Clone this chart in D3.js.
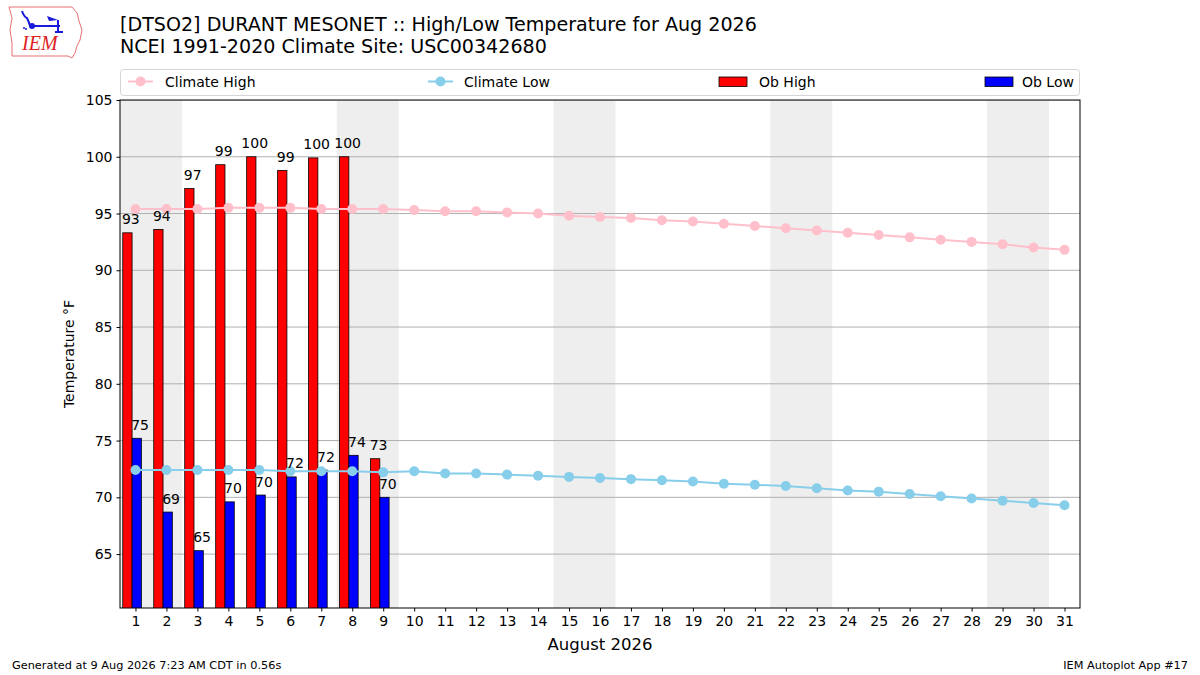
<!DOCTYPE html>
<html>
<head>
<meta charset="utf-8">
<script src="https://cdn.jsdelivr.net/npm/d3@7"></script>
<style>
  html, body { margin: 0; padding: 0; background: #fff; }
  svg { display: block; font-family: "DejaVu Sans", sans-serif; }
</style>
</head>
<body>
<svg id="chart" width="1200" height="675"></svg>
<script>
// ---- data ----
const days = d3.range(1, 32);
const obDays = [1, 2, 3, 4, 5, 6, 7, 8, 9];
const obHigh = [93.3, 93.6, 97.2, 99.3, 100.0, 98.8, 99.9, 100.0, 73.4];
const obLow = [75.2, 68.7, 65.3, 69.6, 70.2, 71.8, 72.4, 73.7, 70.0];
const climateHigh = [95.4, 95.4, 95.4, 95.5, 95.5, 95.5, 95.4, 95.4, 95.4, 95.3,
  95.2, 95.2, 95.1, 95.0, 94.8, 94.7, 94.6, 94.4, 94.3, 94.1,
  93.9, 93.7, 93.5, 93.3, 93.1, 92.9, 92.7, 92.5, 92.3, 92.0, 91.8];
const climateLow = [72.4, 72.4, 72.4, 72.4, 72.4, 72.3, 72.3, 72.3, 72.2, 72.3,
  72.1, 72.1, 72.0, 71.9, 71.8, 71.7, 71.6, 71.5, 71.4, 71.2,
  71.1, 71.0, 70.8, 70.6, 70.5, 70.3, 70.1, 69.9, 69.7, 69.5, 69.3];
const weekendStarts = [1, 8, 15, 22, 29];
const yTicks = [65, 70, 75, 80, 85, 90, 95, 100, 105];
const titleLines = ["[DTSO2] DURANT MESONET :: High/Low Temperature for Aug 2026",
  "NCEI 1991-2020 Climate Site: USC00342680"];
const legendLabels = ["Climate High", "Climate Low", "Ob High", "Ob Low"];
const colors = { climHigh: "#ffc0cb", climLow: "#87ceeb", obHigh: "#ff0000", obLow: "#0000ff" };

// ---- layout ----
const svg = d3.select("#chart");
const L = 120, R = 1080, T = 100, B = 608;
const x = d3.scaleLinear().domain([0.5, 31.5]).range([L, R]);
const y = d3.scaleLinear().domain([60.25, 105]).range([B, T]);

const defs = svg.append("defs");
defs.append("clipPath").attr("id", "plotclip").append("rect")
  .attr("x", L).attr("y", T).attr("width", R - L).attr("height", B - T);

const plot = svg.append("g").attr("clip-path", "url(#plotclip)");

// weekend shading
plot.selectAll("rect.wk").data(weekendStarts).join("rect")
  .attr("class", "wk")
  .attr("x", d => x(d - 0.5)).attr("width", d => x(d + 1.5) - x(d - 0.5))
  .attr("y", T).attr("height", B - T).attr("fill", "#eeeeee");

// grid
plot.selectAll("line.grid").data(yTicks).join("line")
  .attr("x1", L).attr("x2", R)
  .attr("y1", d => y(d)).attr("y2", d => y(d))
  .attr("stroke", "#b0b0b0").attr("stroke-width", 1);

// bars
const hiData = obDays.map((d, i) => ({ d, v: obHigh[i] }));
const loData = obDays.map((d, i) => ({ d, v: obLow[i] }));
plot.selectAll("rect.hi").data(hiData).join("rect")
  .attr("x", o => x(o.d - 0.41)).attr("width", o => x(o.d - 0.11) - x(o.d - 0.41))
  .attr("y", o => y(o.v)).attr("height", o => y(y.domain()[0]) - y(o.v) + 2)
  .attr("fill", colors.obHigh).attr("stroke", "#000").attr("stroke-width", 0.8);
plot.selectAll("rect.lo").data(loData).join("rect")
  .attr("x", o => x(o.d - 0.11)).attr("width", o => x(o.d + 0.19) - x(o.d - 0.11))
  .attr("y", o => y(o.v)).attr("height", o => y(y.domain()[0]) - y(o.v) + 2)
  .attr("fill", colors.obLow).attr("stroke", "#000").attr("stroke-width", 0.8);

// climate lines
function drawLine(vals, color) {
  const pts = days.map((d, i) => [d, vals[i]]);
  plot.append("path").datum(pts)
    .attr("d", d3.line().x(p => x(p[0])).y(p => y(p[1])))
    .attr("fill", "none").attr("stroke", color).attr("stroke-width", 2);
  plot.selectAll(null).data(pts).join("circle")
    .attr("cx", p => x(p[0])).attr("cy", p => y(p[1])).attr("r", 5)
    .attr("fill", color);
}
drawLine(climateHigh, colors.climHigh);
drawLine(climateLow, colors.climLow);

// bar labels
svg.selectAll("text.hiLab").data(hiData).join("text")
  .attr("x", o => x(o.d - 0.15)).attr("y", o => y(o.v) - 8.5)
  .attr("text-anchor", "middle").attr("font-size", 14).attr("fill", "#000")
  .text(o => Math.round(o.v));
svg.selectAll("text.loLab").data(loData).join("text")
  .attr("x", o => x(o.d + 0.15)).attr("y", o => y(o.v) - 8.5)
  .attr("text-anchor", "middle").attr("font-size", 14).attr("fill", "#000")
  .text(o => Math.round(o.v));

// frame
svg.append("rect").attr("x", L).attr("y", T).attr("width", R - L).attr("height", B - T)
  .attr("fill", "none").attr("stroke", "#000").attr("stroke-width", 1);

// axes
const yAxis = d3.axisLeft(y).tickValues(yTicks).tickSize(3.5).tickPadding(4);
const gy = svg.append("g").attr("transform", `translate(${L},0)`).call(yAxis);
const xAxis = d3.axisBottom(x).tickValues(days).tickSize(3.5).tickPadding(5);
const gx = svg.append("g").attr("transform", `translate(0,${B})`).call(xAxis);
[gy, gx].forEach(g => {
  g.select(".domain").remove();
  g.selectAll("text").attr("font-size", 14).attr("fill", "#000").attr("font-family", "DejaVu Sans");
  g.selectAll("line").attr("stroke", "#000");
});

svg.append("text").attr("transform", `translate(74,${(T + B) / 2}) rotate(-90)`)
  .attr("text-anchor", "middle").attr("font-size", 14).text("Temperature °F");
svg.append("text").attr("x", (L + R) / 2).attr("y", 650)
  .attr("text-anchor", "middle").attr("font-size", 16.5).text("August 2026");

// title
svg.selectAll("text.title").data(titleLines).join("text")
  .attr("x", 120).attr("y", (d, i) => 30.5 + i * 22.5)
  .attr("font-size", 19.1).attr("fill", "#000").text(d => d);

// legend
const lg = svg.append("g");
lg.append("rect").attr("x", 120.5).attr("y", 69.5).attr("width", 959).attr("height", 26)
  .attr("rx", 3).attr("fill", "#fff").attr("stroke", "#d5d5d5");
const lineItems = [{ x0: 128, color: colors.climHigh, label: legendLabels[0], tx: 165 },
  { x0: 428, color: colors.climLow, label: legendLabels[1], tx: 464 }];
lineItems.forEach(it => {
  lg.append("line").attr("x1", it.x0).attr("x2", it.x0 + 25).attr("y1", 81.5).attr("y2", 81.5)
    .attr("stroke", it.color).attr("stroke-width", 2);
  lg.append("circle").attr("cx", it.x0 + 12.5).attr("cy", 81.5).attr("r", 5).attr("fill", it.color);
  lg.append("text").attr("x", it.tx).attr("y", 86.5).attr("font-size", 14).text(it.label);
});
const patchItems = [{ x0: 719, color: colors.obHigh, label: legendLabels[2], tx: 759 },
  { x0: 985, color: colors.obLow, label: legendLabels[3], tx: 1022 }];
patchItems.forEach(it => {
  lg.append("rect").attr("x", it.x0).attr("y", 77).attr("width", 28).attr("height", 9.5)
    .attr("fill", it.color).attr("stroke", "#000").attr("stroke-width", 0.8);
  lg.append("text").attr("x", it.tx).attr("y", 86.5).attr("font-size", 14).text(it.label);
});

// footer
svg.append("text").attr("x", 12).attr("y", 669).attr("font-size", 11.3).text("Generated at 9 Aug 2026 7:23 AM CDT in 0.56s");
svg.append("text").attr("x", 1188).attr("y", 669).attr("font-size", 11.3).attr("text-anchor", "end").text("IEM Autoplot App #17");

// logo (simplified IEM mark)
const logo = svg.append("g");
logo.append("path")
  .attr("d", "M9,7 L72,7 L77,13 L79,21 L82,30 L80,40 L77,46 L75,53 L72,58 L68,56 L12,56 L12,43 L10,30 L12,18 Z")
  .attr("fill", "#fff").attr("stroke", "#e87070").attr("stroke-width", 1);
logo.append("path").attr("d", "M30,26 L60,26 M22,11 Q24,17 27,18 Q29,22 30,26 M58,20 L58,33 M55,32 L63,32")
  .attr("stroke", "#1a1adc").attr("stroke-width", 2).attr("fill", "none");
logo.append("circle").attr("cx", 32).attr("cy", 26).attr("r", 3).attr("fill", "#1a1adc");
logo.append("circle").attr("cx", 24).attr("cy", 28).attr("r", 1).attr("fill", "#1a1adc");
logo.append("circle").attr("cx", 26).attr("cy", 29).attr("r", 1).attr("fill", "#1a1adc");
logo.append("path").attr("d", "M47,16 L58,20 L49,21 Z").attr("fill", "#1a1adc");
logo.append("text").attr("x", 22).attr("y", 50).attr("font-family", "Liberation Serif")
  .attr("font-style", "italic").attr("font-size", 20).attr("fill", "#dd2222").text("IEM");
</script>
</body>
</html>
